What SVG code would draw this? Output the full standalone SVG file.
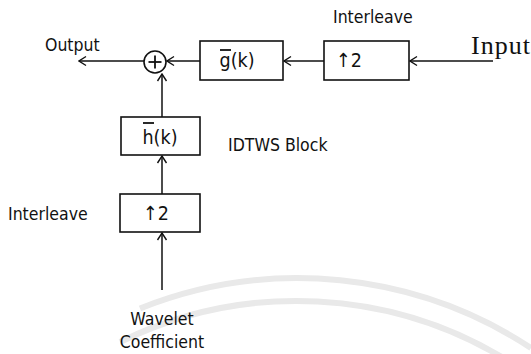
<svg xmlns="http://www.w3.org/2000/svg" width="531" height="354" viewBox="0 0 531 354">
<style>
.t{font-family:"DejaVu Sans Condensed","DejaVu Sans",sans-serif;font-stretch:condensed;font-size:17.5px;fill:#111}
.bt{font-family:"DejaVu Sans Condensed","DejaVu Sans",sans-serif;font-stretch:condensed;font-size:19.5px;fill:#111;text-anchor:middle}
.box{fill:none;stroke:#111;stroke-width:1.6}
.ln{fill:none;stroke:#111;stroke-width:1.8}
.con{fill:none;stroke:#111;stroke-width:1.5;marker-end:url(#ah)}
.wm{fill:none;stroke:#e9e9e9;stroke-width:6}
</style>
<defs>
<marker id="ah" viewBox="-9 -6 10 12" refX="0" refY="0" markerWidth="10" markerHeight="12" markerUnits="userSpaceOnUse" orient="auto">
<path d="M-7,-4.5 L0,0 L-7,4.5" fill="none" stroke="#111" stroke-width="1.4"/>
</marker>
</defs>
<rect width="531" height="354" fill="#fff"/>
<g id="watermark">
<path class="wm" d="M140,308.5 A425,425 0 0 1 531,348"/>
<path class="wm" d="M120,342 A402,402 0 0 1 510,362"/>
</g>
<g id="connectors">
<line class="con" x1="493" y1="61" x2="410" y2="61"/>
<line class="con" x1="324" y1="61" x2="284" y2="61"/>
<line class="con" x1="200" y1="61" x2="167" y2="61"/>
<line class="con" x1="144" y1="61" x2="79" y2="61"/>
<line class="con" x1="162" y1="117" x2="162" y2="74"/>
<line class="con" x1="162" y1="194" x2="162" y2="156"/>
<line class="con" x1="162" y1="290" x2="162" y2="233"/>
</g>
<g id="sum">
<circle cx="155" cy="62" r="11" class="box"/>
<line class="ln" x1="148.5" y1="62" x2="161.5" y2="62"/>
<line class="ln" x1="155" y1="55.5" x2="155" y2="68.5"/>
</g>
<g id="g-filter">
<rect class="box" x="200" y="41" width="83" height="39"/>
<text class="bt" x="237" y="67">g(k)</text>
<line class="ln" x1="220" y1="50" x2="231" y2="50"/>
</g>
<g id="upsample-top">
<rect class="box" x="324" y="41" width="85" height="39"/>
<text class="bt" x="349" y="67">↑2</text>
</g>
<g id="h-filter">
<rect class="box" x="121" y="117" width="79" height="38"/>
<text class="bt" x="160" y="144">h(k)</text>
<line class="ln" x1="143" y1="123" x2="154" y2="123"/>
</g>
<g id="upsample-bottom">
<rect class="box" x="120" y="194" width="80" height="38"/>
<text class="bt" x="156" y="220">↑2</text>
</g>
<g id="labels">
<text class="t" x="45" y="51">Output</text>
<text class="t" x="333" y="23">Interleave</text>
<text x="471" y="54" style="font-family:'Liberation Serif','Times New Roman',serif;font-size:26px;fill:#111" textLength="59">Input</text>
<text class="t" x="228" y="151">IDTWS Block</text>
<text class="t" x="8" y="220">Interleave</text>
<text class="t" x="162" y="325" text-anchor="middle">Wavelet</text>
<text class="t" x="162" y="348" text-anchor="middle">Coefficient</text>
</g>
</svg>
